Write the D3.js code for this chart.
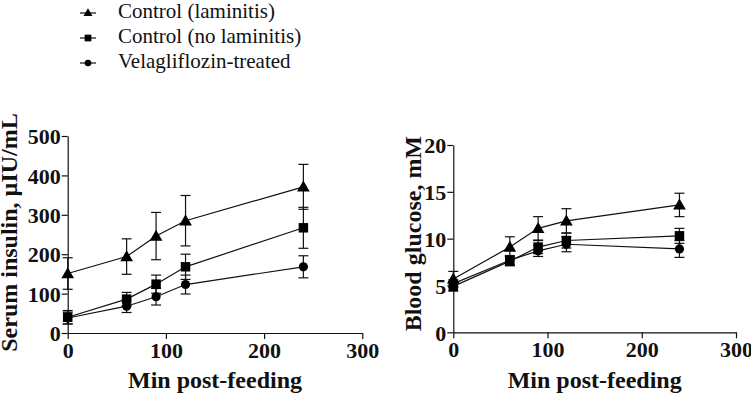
<!DOCTYPE html>
<html>
<head>
<meta charset="utf-8">
<script src="https://cdn.jsdelivr.net/npm/d3@7"></script>
<style>
    body { margin: 0; background: #fff; }
    svg { display: block; }
</style>
</head>
<body>
<svg id="chart" width="751" height="398"></svg>
<script>
// Sampling times (min post-feeding)
const times = [0, 60, 90, 120, 240];

const seriesNames = ["Control (laminitis)", "Control (no laminitis)", "Velagliflozin-treated"];
const seriesSymbols = ["triangle", "square", "circle"];

// Serum insulin, µIU/mL (mean, SEM)
const insulinLaminitis = [151, 194, 246, 285, 371];
const insulinLaminitisSem = [40, 45, 60, 64, 57];
const insulinNoLaminitis = [40, 86, 124, 168, 267];
const insulinNoLaminitisSem = [17, 17, 23, 32, 52];
const insulinVela = [38, 68, 92, 123, 168];
const insulinVelaSem = [15, 16, 21, 24, 28];

// Blood glucose, mM (mean, SEM)
const glucoseLaminitis = [5.7, 9.1, 11.1, 11.9, 13.6];
const glucoseLaminitisSem = [0.8, 1.1, 1.25, 1.3, 1.25];
const glucoseNoLaminitis = [4.9, 7.6, 9.1, 9.8, 10.3];
const glucoseNoLaminitisSem = [0.5, 0.5, 0.7, 0.8, 0.8];
const glucoseVela = [5.2, 7.7, 8.7, 9.4, 8.9];
const glucoseVelaSem = [0.4, 0.5, 0.6, 0.8, 0.9];

const xTicks = [0, 100, 200, 300];
const insulinTicks = [0, 100, 200, 300, 400, 500];
const glucoseTicks = [0, 5, 10, 15, 20];

const svg = d3.select("#chart");
const ink = "#111";
const serif = "'Liberation Serif', 'Times New Roman', serif";

const symbolSize = { triangle: 70, square: 90, circle: 66 };
const symbolType = { triangle: d3.symbolTriangle, square: d3.symbolSquare, circle: d3.symbolCircle };

function drawPanel(opts) {
    const x = d3.scaleLinear().domain([0, 300]).range(opts.xRange);
    const y = d3.scaleLinear().domain(opts.yDomain).range(opts.yRange);
    const g = svg.append("g");

    // axes
    const xAxis = g.append("g")
        .attr("transform", `translate(0,${opts.yRange[0]})`)
        .call(d3.axisBottom(x).tickValues(xTicks).tickSize(6).tickSizeOuter(0));
    const yAxis = g.append("g")
        .attr("transform", `translate(${opts.xRange[0]},0)`)
        .call(d3.axisLeft(y).tickValues(opts.yTicks).tickSize(6).tickSizeOuter(0));

    [xAxis, yAxis].forEach(a => {
        a.attr("font-family", serif).attr("font-size", 22).attr("font-weight", "bold");
        a.select(".domain").attr("stroke", ink).attr("stroke-width", 1.2);
        a.selectAll(".tick line").attr("stroke", ink).attr("stroke-width", 1.2);
        a.selectAll(".tick text").attr("fill", ink);
    });
    yAxis.selectAll(".tick text").attr("x", -7).attr("dy", "0.35em");

    // axis titles
    g.append("text")
        .attr("x", (opts.xRange[0] + opts.xRange[1]) / 2)
        .attr("y", 388)
        .attr("text-anchor", "middle")
        .attr("fill", ink)
        .attr("font-family", serif)
        .attr("font-size", 24)
        .attr("font-weight", "bold")
        .text("Min post-feeding");

    g.append("text")
        .attr("transform", `translate(${opts.yLabelX},${(opts.yRange[0] + opts.yRange[1]) / 2 + opts.yLabelShift}) rotate(-90)`)
        .attr("text-anchor", "middle")
        .attr("fill", ink)
        .attr("font-family", serif)
        .attr("font-size", 24)
        .attr("font-weight", "bold")
        .text(opts.yLabel);

    const line = d3.line().x(d => x(d.t)).y(d => y(d.v));

    opts.series.forEach(s => {
        const pts = times.map((t, j) => ({ t: t, v: s.values[j], e: s.sem[j] }));

        g.append("path")
            .datum(pts)
            .attr("fill", "none")
            .attr("stroke", ink)
            .attr("stroke-width", 1.2)
            .attr("d", line);

        // error bars
        const eb = g.append("g").attr("stroke", ink).attr("stroke-width", 1.2);
        pts.forEach(p => {
            const cx = x(p.t);
            eb.append("line").attr("x1", cx).attr("x2", cx)
                .attr("y1", y(p.v - p.e)).attr("y2", y(p.v + p.e));
            [p.v - p.e, p.v + p.e].forEach(v => {
                eb.append("line").attr("x1", cx - 5).attr("x2", cx + 5)
                    .attr("y1", y(v)).attr("y2", y(v));
            });
        });
    });

    // markers on top
    opts.series.forEach((s, i) => {
        const sym = seriesSymbols[i];
        g.append("g").selectAll("path")
            .data(times.map((t, j) => ({ t: t, v: s.values[j] })))
            .join("path")
            .attr("transform", d => `translate(${x(d.t)},${y(d.v) + (sym === "triangle" ? 1 : 0)})`)
            .attr("d", d3.symbol(symbolType[sym], symbolSize[sym]))
            .attr("fill", "#000");
    });
}

drawPanel({
    xRange: [67.7, 362.3],
    yRange: [333, 136],
    yDomain: [0, 500],
    yTicks: insulinTicks,
    yLabel: "Serum insulin, \u00b5IU/mL",
    yLabelX: 17,
    yLabelShift: -2,
    series: [
        { values: insulinLaminitis, sem: insulinLaminitisSem },
        { values: insulinNoLaminitis, sem: insulinNoLaminitisSem },
        { values: insulinVela, sem: insulinVelaSem }
    ]
});

drawPanel({
    xRange: [453.3, 736],
    yRange: [332.3, 145],
    yDomain: [0, 20],
    yTicks: glucoseTicks,
    yLabel: "Blood glucose, mM",
    yLabelX: 421,
    yLabelShift: -5,
    series: [
        { values: glucoseLaminitis, sem: glucoseLaminitisSem },
        { values: glucoseNoLaminitis, sem: glucoseNoLaminitisSem },
        { values: glucoseVela, sem: glucoseVelaSem }
    ]
});

// Legend
const legend = svg.append("g");
seriesNames.forEach((name, i) => {
    const yPos = 13 + i * 25;
    const row = legend.append("g").attr("transform", `translate(0,${yPos})`);
    row.append("line").attr("x1", 80).attr("x2", 96).attr("y1", 0).attr("y2", 0)
        .attr("stroke", ink).attr("stroke-width", 1.2);
    const sym = seriesSymbols[i];
    row.append("path")
        .attr("transform", `translate(88,${sym === "triangle" ? 0.5 : 0})`)
        .attr("d", d3.symbol(symbolType[sym], symbolSize[sym] * 0.5))
        .attr("fill", "#000");
    row.append("text")
        .attr("x", 118).attr("y", 5)
        .attr("fill", ink)
        .attr("font-family", serif)
        .attr("font-size", 21)
        .text(name);
});
</script>
</body>
</html>
